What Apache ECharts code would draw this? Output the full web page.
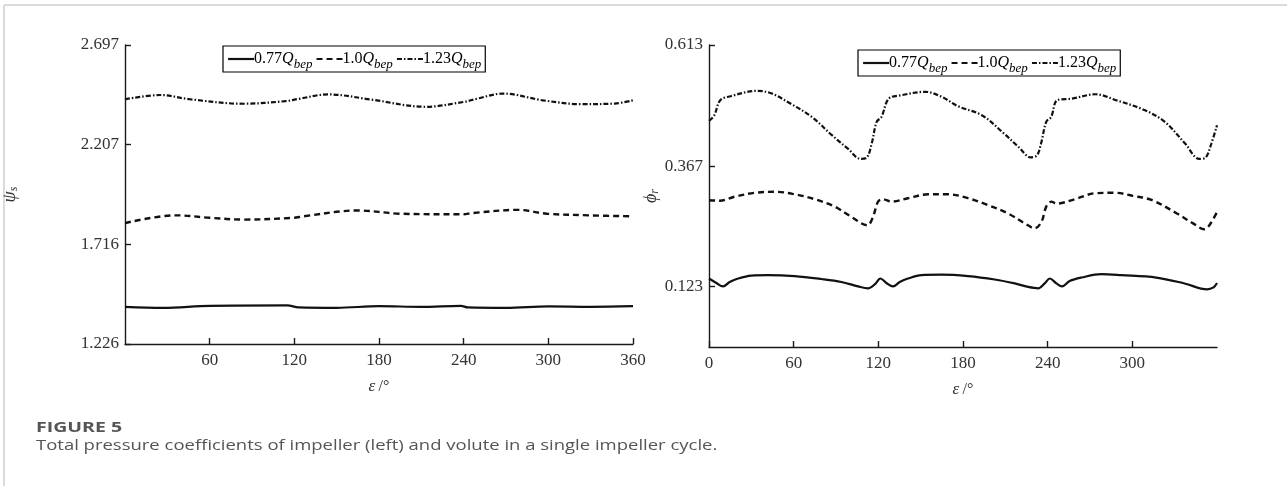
<!DOCTYPE html>
<html>
<head>
<meta charset="utf-8">
<script src="https://cdn.jsdelivr.net/npm/echarts@6/dist/echarts.min.js"></script>
<style>
html,body{margin:0;padding:0;background:#fff;}
#c{width:1287px;height:486px;}
</style>
</head>
<body>
<div id="c"></div>
<script>
// ---------- data ----------
const seriesNames = ['0.77Q', '1.0Q', '1.23Q'];

// Left chart (impeller, psi_s)
const leftXTicks = [60, 120, 180, 240, 300, 360];
const leftYTicks = [1.226, 1.716, 2.207, 2.697];

const leftDeg077 = [0, 27, 60, 115, 123, 150, 180, 210, 238, 243, 270, 300, 330, 360];
const leftVal077 = [1.409, 1.404, 1.414, 1.416, 1.406, 1.404, 1.412, 1.409, 1.414, 1.406, 1.404, 1.411, 1.409, 1.412];

const leftDeg100 = [0, 36, 60, 84, 120, 126, 165, 195, 240, 246, 278, 299, 329, 360];
const leftVal100 = [1.821, 1.859, 1.847, 1.838, 1.847, 1.854, 1.883, 1.867, 1.864, 1.870, 1.886, 1.867, 1.859, 1.854];

const leftDeg123 = [0, 25, 46, 84, 114, 123, 144, 174, 213, 240, 249, 268, 296, 323, 347, 360];
const leftVal123 = [2.430, 2.451, 2.430, 2.408, 2.421, 2.432, 2.454, 2.429, 2.393, 2.417, 2.432, 2.458, 2.425, 2.406, 2.409, 2.425];

// Right chart (volute, phi_r)
const rightXTicks = [0, 60, 120, 180, 240, 300];
const rightYTicks = [0.123, 0.367, 0.613];

const rightDeg077 = [0, 5.2, 9.9, 14.7, 20.6, 30, 41.8, 60.7, 79.7, 93.8, 105.6, 112.7, 117.4, 121.5, 125.7, 130.4, 135.2, 141, 150.5, 164.7, 183.6, 202.5, 216.7, 226, 233.2, 237.9, 241.5, 246.2, 250.2, 255.6, 263.9, 278, 292.3, 317, 337, 353, 357.5, 360];
const rightVal077 = [0.139, 0.130, 0.123, 0.132, 0.139, 0.145, 0.146, 0.144, 0.138, 0.132, 0.123, 0.119, 0.127, 0.139, 0.130, 0.123, 0.132, 0.139, 0.146, 0.147, 0.144, 0.137, 0.129, 0.122, 0.119, 0.129, 0.139, 0.129, 0.123, 0.134, 0.141, 0.148, 0.146, 0.141, 0.129, 0.117, 0.121, 0.130];

const rightDeg100 = [0, 7.6, 18, 32.4, 47.8, 60.7, 74.9, 89, 101, 112.3, 116.2, 119.8, 123.3, 129.3, 141, 155.2, 169.4, 183.6, 197.7, 212, 223.7, 230.8, 235.6, 239, 242.7, 246.2, 259.2, 273.4, 287.5, 300, 314, 331.6, 343, 351, 354.6, 360];
const rightVal100 = [0.298, 0.297, 0.305, 0.313, 0.315, 0.310, 0.300, 0.285, 0.264, 0.247, 0.264, 0.295, 0.300, 0.295, 0.302, 0.310, 0.310, 0.302, 0.288, 0.271, 0.251, 0.241, 0.254, 0.285, 0.295, 0.291, 0.300, 0.312, 0.313, 0.307, 0.298, 0.271, 0.251, 0.239, 0.247, 0.274];

const rightDeg123 = [0, 3.7, 8, 15.2, 34, 44, 58.4, 72.8, 87.1, 98.6, 107.3, 111.6, 115.3, 118.8, 122.2, 127.4, 136, 153.3, 164.8, 176.3, 193.6, 208, 219.4, 228, 232.4, 235.3, 239, 242.5, 246.8, 256.8, 274, 288.5, 308.6, 323, 337.4, 347.4, 351.7, 356, 360];
const rightVal123 = [0.459, 0.470, 0.501, 0.509, 0.520, 0.515, 0.493, 0.467, 0.430, 0.402, 0.382, 0.384, 0.413, 0.457, 0.467, 0.504, 0.511, 0.518, 0.508, 0.489, 0.470, 0.436, 0.406, 0.385, 0.389, 0.413, 0.457, 0.467, 0.501, 0.504, 0.513, 0.501, 0.481, 0.457, 0.413, 0.382, 0.384, 0.413, 0.450];

// ---------- helpers ----------
const zip = (xs, ys) => xs.map((x, i) => [x, ys[i]]);
const SERIF = "'Liberation Serif', 'Times New Roman', serif";
const INK = '#1a1a1a';
const lineStyles = [
  { type: 'solid', width: 2.2 },
  { type: [6, 4], width: 2.4 },
  { type: [5, 2, 1.5, 2], width: 2.2 }
];

function legendCfg(left, top) {
  return {
    left: left, top: top,
    orient: 'horizontal',
    data: seriesNames,
    borderColor: '#000', borderWidth: 1.2,
    padding: [1, 4, 1, 4],
    itemGap: 3, itemWidth: 26, itemHeight: 14,
    selectedMode: false,
    itemStyle: { opacity: 0, borderWidth: 0 },
    lineStyle: { width: 2.2 },
    formatter: function (name) {
      return '{n|' + name.replace('Q', '') + '}{q|Q}{s|bep}';
    },
    textStyle: {
      color: '#000', fontFamily: SERIF, fontSize: 16, padding: [0, 0, 0, -5],
      rich: {
        n: { fontFamily: SERIF, fontSize: 16, color: '#000', lineHeight: 24 },
        q: { fontFamily: SERIF, fontSize: 16, fontStyle: 'italic', color: '#000', lineHeight: 24 },
        s: { fontFamily: SERIF, fontSize: 13, fontStyle: 'italic', color: '#000', lineHeight: 24, verticalAlign: 'bottom', padding: [11, 0, 0, 0] }
      }
    }
  };
}

function mkSeries(idx, data, xi, yi) {
  return {
    type: 'line', name: seriesNames[idx], data: data,
    xAxisIndex: xi, yAxisIndex: yi,
    showSymbol: false, symbol: 'none', smooth: 0.35,
    lineStyle: Object.assign({ color: '#111' }, lineStyles[idx]),
    itemStyle: { color: '#111' },
    animation: false, silent: true
  };
}

function xAxisCfg(grid, ticks) {
  return {
    type: 'value', gridIndex: grid, min: 0, max: 360,
    name: '{e|ε} {o|/°}', nameLocation: 'middle', nameGap: 34,
    nameTextStyle: { rich: {
      e: { fontFamily: SERIF, fontStyle: 'italic', fontSize: 17, color: '#333' },
      o: { fontFamily: SERIF, fontSize: 16, color: '#333' } } },
    axisLine: { show: true, onZero: false, lineStyle: { color: INK, width: 1.4 } },
    axisTick: { show: true, inside: true, length: 6, customValues: ticks, lineStyle: { color: INK, width: 1.4 } },
    axisLabel: { customValues: ticks, color: '#333', fontFamily: SERIF, fontSize: 17, margin: 8 },
    splitLine: { show: false }
  };
}

function yAxisCfg(grid, min, max, ticks, nameRich, gap) {
  return {
    type: 'value', gridIndex: grid, min: min, max: max,
    name: nameRich, nameLocation: 'middle', nameRotate: 90, nameGap: gap,
    nameTextStyle: { rich: {
      g: { fontFamily: SERIF, fontStyle: 'italic', fontSize: 18, color: '#333' },
      s: { fontFamily: SERIF, fontStyle: 'italic', fontSize: 12, color: '#333', verticalAlign: 'bottom', padding: [8, 0, 0, 0] } } },
    axisLine: { show: true, onZero: false, lineStyle: { color: INK, width: 1.4 } },
    axisTick: { show: true, inside: true, length: 6, customValues: ticks, lineStyle: { color: INK, width: 1.4 } },
    axisLabel: { customValues: ticks, color: '#333', fontFamily: SERIF, fontSize: 17, margin: 6,
      formatter: v => v.toFixed(3) },
    splitLine: { show: false }
  };
}

const chart = echarts.init(document.getElementById('c'), null, { renderer: 'canvas' });
chart.setOption({
  backgroundColor: '#fff',
  animation: false,
  grid: [
    { left: 124, top: 45, width: 509, height: 299 },
    { left: 709, top: 45, width: 508, height: 302 }
  ],
  legend: [legendCfg(223, 46), legendCfg(858, 50)],
  xAxis: [xAxisCfg(0, leftXTicks), xAxisCfg(1, rightXTicks)],
  yAxis: [
    yAxisCfg(0, 1.226, 2.697, leftYTicks, '{g|ψ}{s|s}', 105),
    yAxisCfg(1, 0, 0.613, rightYTicks, '{g|ϕ}{s|r}', 48)
  ],
  series: [
    mkSeries(0, zip(leftDeg077, leftVal077), 0, 0),
    mkSeries(1, zip(leftDeg100, leftVal100), 0, 0),
    mkSeries(2, zip(leftDeg123, leftVal123), 0, 0),
    mkSeries(0, zip(rightDeg077, rightVal077), 1, 1),
    mkSeries(1, zip(rightDeg100, rightVal100), 1, 1),
    mkSeries(2, zip(rightDeg123, rightVal123), 1, 1)
  ],
  graphic: [
    { type: 'line', shape: { x1: 4, y1: 5, x2: 1287, y2: 5 }, style: { stroke: '#cfcfcf', lineWidth: 1.5 }, silent: true },
    { type: 'line', shape: { x1: 4, y1: 5, x2: 4, y2: 486 }, style: { stroke: '#cfcfcf', lineWidth: 1.5 }, silent: true },
    { type: 'text', x: 36, y: 428, scaleX: 1.3, style: { text: 'FIGURE 5', fill: '#555', verticalAlign: 'middle', font: "bold 15px 'Open Sans', 'Noto Sans', sans-serif" }, silent: true },
    { type: 'text', x: 36, y: 446, scaleX: 1.32, style: { text: 'Total pressure coefficients of impeller (left) and volute in a single impeller cycle.', fill: '#555', verticalAlign: 'middle', font: "14px 'Open Sans', 'Noto Sans', sans-serif" }, silent: true }
  ]
});
</script>
</body>
</html>
